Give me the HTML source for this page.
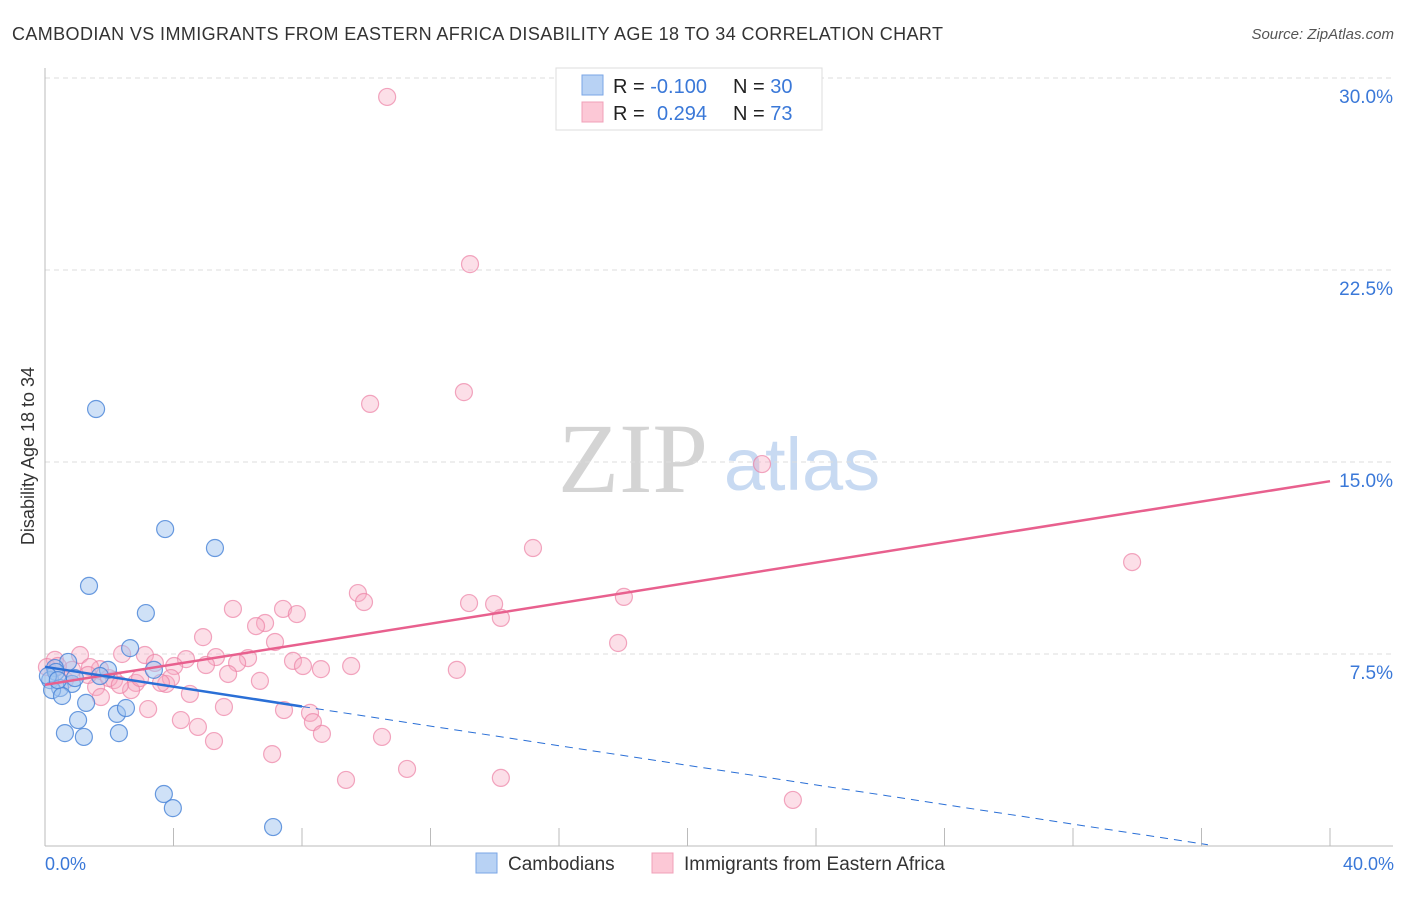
<!DOCTYPE html>
<html><head><meta charset="utf-8"><style>
body{margin:0;background:#fff;font-family:"Liberation Sans",sans-serif;}
</style></head><body>
<svg id="chart" width="1406" height="892" xmlns="http://www.w3.org/2000/svg" font-family="Liberation Sans, sans-serif">
<text x="12" y="40" font-size="18" fill="#333" textLength="931">CAMBODIAN VS IMMIGRANTS FROM EASTERN AFRICA DISABILITY AGE 18 TO 34 CORRELATION CHART</text>
<text x="1394" y="39" font-size="15" fill="#555" text-anchor="end" font-style="italic">Source: ZipAtlas.com</text>
<text x="633" y="492" font-size="100" fill="#d4d4d4" text-anchor="middle" style="font-family:'Liberation Serif',serif">ZIP</text>
<text x="802" y="490" font-size="74" fill="#c8daf2" text-anchor="middle">atlas</text>
<g id="grid"></g>
<g id="axes"></g>
<g id="pink"></g>
<g id="blue"></g>
<g id="trends"></g>
<text transform="translate(34,456) rotate(-90)" font-size="18" fill="#333" text-anchor="middle">Disability Age 18 to 34</text>
<text x="45" y="870" font-size="18" fill="#3a78d8">0.0%</text>
<text x="1394" y="870" font-size="18" fill="#3a78d8" text-anchor="end">40.0%</text>
<g>
<rect x="556" y="68" width="266" height="62" fill="#fff" stroke="#ddd"/>
<rect x="582" y="75" width="21" height="20" fill="#b8d2f4" stroke="#7aa6e6"/>
<rect x="582" y="102" width="21" height="20" fill="#fcc8d6" stroke="#f0a0b8"/>
<text x="613" y="93" font-size="20" fill="#222">R = <tspan fill="#3a78d8">-0.100</tspan></text>
<text x="733" y="93" font-size="20" fill="#222">N = <tspan fill="#3a78d8">30</tspan></text>
<text x="613" y="120" font-size="20" fill="#222">R = <tspan fill="#3a78d8" x="657">0.294</tspan></text>
<text x="733" y="120" font-size="20" fill="#222">N = <tspan fill="#3a78d8">73</tspan></text>
</g>
<g>
<rect x="476" y="853" width="21" height="20" fill="#b8d2f4" stroke="#7aa6e6"/>
<text x="508" y="870" font-size="19" fill="#333">Cambodians</text>
<rect x="652" y="853" width="21" height="20" fill="#fcc8d6" stroke="#f0a0b8"/>
<text x="684" y="870" font-size="19" fill="#333">Immigrants from Eastern Africa</text>
</g>
</svg>
<script>
const yTicks=[7.5,15,22.5,30];
const yTickLabels=["7.5%","15.0%","22.5%","30.0%"];
const xTicks=[0,4,8,12,16,20,24,28,32,36,40];
const blueX=[1.59,3.74,5.29,1.37,3.14,2.65,3.39,1.96,0.72,0.31,0.16,0.47,0.84,0.22,0.53,1.28,1.03,2.24,2.52,0.62,1.21,2.30,3.70,3.98,7.10,0.34,0.93,0.09,1.71,0.40];
const blueY=[17.07,12.38,11.64,10.16,9.10,7.73,6.88,6.88,7.19,6.95,6.48,6.17,6.33,6.09,5.86,5.59,4.92,5.16,5.39,4.41,4.26,4.41,2.03,1.48,0.74,6.80,6.56,6.64,6.64,6.48];
const pinkX=[10.65,13.23,13.04,10.12,22.32,15.19,33.84,9.74,9.93,13.20,13.98,18.02,5.85,7.41,7.84,14.19,6.85,6.57,17.84,4.92,7.16,2.40,3.11,1.09,4.39,5.32,3.42,6.32,4.02,5.01,5.98,7.72,8.03,8.59,9.53,12.82,5.70,6.69,2.15,2.83,1.59,2.68,3.77,3.92,3.61,1.71,0.31,0.06,0.62,1.99,4.51,1.74,3.21,5.57,7.44,8.25,4.23,8.34,4.76,8.62,10.49,5.26,7.07,11.27,9.37,14.19,23.28,1.40,1.34,0.84,2.33,2.96,0.40];
const pinkY=[29.26,22.73,17.73,17.27,14.92,11.64,11.09,9.88,9.53,9.49,9.45,9.73,9.26,9.26,9.06,8.91,8.71,8.59,7.93,8.16,7.97,7.50,7.46,7.46,7.30,7.38,7.15,7.34,7.03,7.07,7.15,7.23,7.03,6.91,7.03,6.88,6.72,6.45,6.48,6.37,6.21,6.09,6.33,6.56,6.37,6.91,7.27,6.99,6.48,6.56,5.94,5.82,5.35,5.43,5.31,5.20,4.92,4.84,4.65,4.38,4.26,4.10,3.59,3.01,2.58,2.66,1.80,6.99,6.68,6.88,6.29,6.56,7.03];
const blueTrend=[[0,7.0],[8,5.45],[36.2,0.05]];
const pinkTrend=[[0,6.3],[40,14.25]];
const NS="http://www.w3.org/2000/svg";
const sx=v=>45+v*(1285/40);
const sy=v=>846-v*25.6;
function mk(t,a,p){const e=document.createElementNS(NS,t);for(const k in a)e.setAttribute(k,a[k]);p.appendChild(e);return e;}
const grid=document.getElementById('grid');
yTicks.forEach((t,i)=>{
 const l=mk('line',{x1:45,x2:1393,y1:sy(t),y2:sy(t),stroke:'#ddd','stroke-dasharray':'5,4'},grid);
 
 
 const tx=mk('text',{x:1393,y:sy(t)+25,'font-size':19,fill:'#3a78d8','text-anchor':'end'},grid);
 tx.textContent=yTickLabels[i];
 
 
});
const axes=document.getElementById('axes');
mk('line',{x1:45,x2:45,y1:68,y2:846,stroke:'#bbb'},axes);
mk('line',{x1:45,x2:1393,y1:846,y2:846,stroke:'#bbb'},axes);
xTicks.forEach(t=>{
 const l=mk('line',{x1:sx(t),x2:sx(t),y1:828,y2:846,stroke:'#bbb'},axes);
 
 
});
const pg=document.getElementById('pink');
pinkX.forEach((x,i)=>{
 const c=mk('circle',{cx:sx(x),cy:sy(pinkY[i]),r:8.5,fill:'rgba(248,170,195,0.38)',stroke:'rgba(236,130,165,0.7)','stroke-width':1.2},pg);
 
 
});
const bg=document.getElementById('blue');
blueX.forEach((x,i)=>{
 const c=mk('circle',{cx:sx(x),cy:sy(blueY[i]),r:8.5,fill:'rgba(160,196,240,0.5)',stroke:'rgba(70,130,215,0.8)','stroke-width':1.2},bg);
 
 
});
const tg=document.getElementById('trends');
const pl=mk('line',{x1:sx(pinkTrend[0][0]),y1:sy(pinkTrend[0][1]),x2:sx(pinkTrend[1][0]),y2:sy(pinkTrend[1][1]),stroke:'#e8608e','stroke-width':2.5},tg);


const bl=mk('line',{x1:sx(blueTrend[0][0]),y1:sy(blueTrend[0][1]),x2:sx(blueTrend[1][0]),y2:sy(blueTrend[1][1]),stroke:'#2a6fd6','stroke-width':2.5},tg);


const bd=mk('line',{x1:sx(blueTrend[1][0]),y1:sy(blueTrend[1][1]),x2:sx(blueTrend[2][0]),y2:sy(blueTrend[2][1]),stroke:'#2a6fd6','stroke-width':1,'stroke-dasharray':'8,6'},tg);


</script>
</body></html>
